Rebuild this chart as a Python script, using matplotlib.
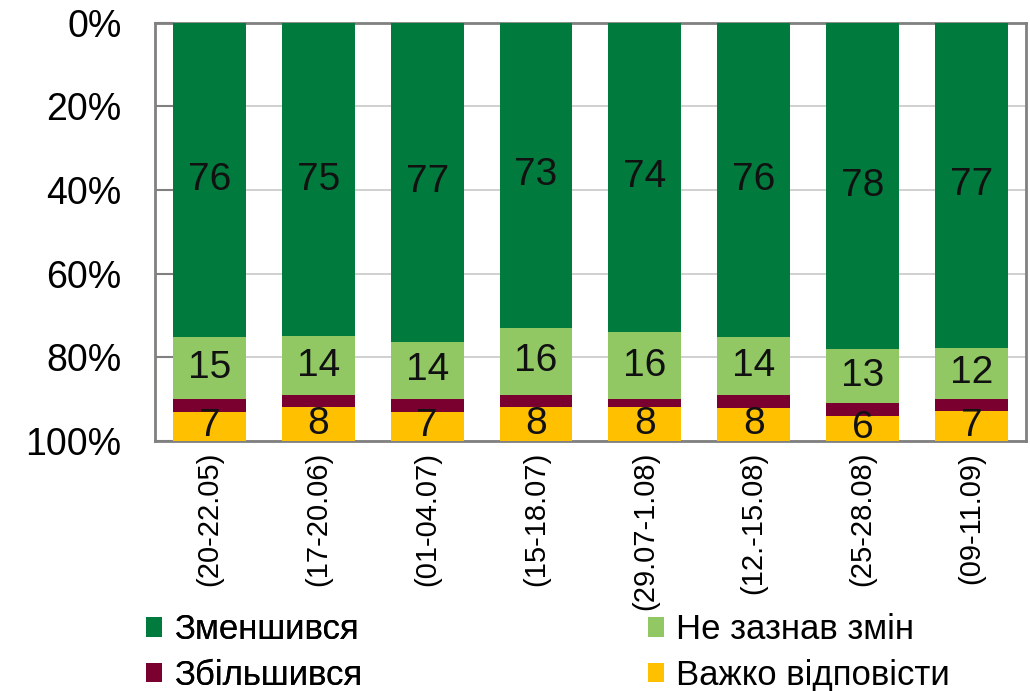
import matplotlib.pyplot as plt
import numpy as np

periods = ["(20-22.05)", "(17-20.06)", "(01-04.07)", "(15-18.07)",
           "(29.07-1.08)", "(12.-15.08)", "(25-28.08)", "(09-11.09)"]

decreased = [76, 75, 77, 73, 74, 76, 78, 77]
no_change = [15, 14, 14, 16, 16, 14, 13, 12]
increased = [3, 3, 3, 3, 2, 3, 3, 3]
hard_to_say = [7, 8, 7, 8, 8, 8, 6, 7]

names = ["Зменшився", "Не зазнав змін", "Збільшився", "Важко відповісти"]
colors = ["#007a3d", "#92c864", "#7a0030", "#ffc000"]
show_label = [True, True, False, True]

plt.rcParams['font.family'] = ['Liberation Sans', 'DejaVu Sans']

series = np.array([decreased, no_change, increased, hard_to_say], dtype=float)
shares = series / series.sum(axis=0) * 100

fig = plt.figure(figsize=(10.30, 6.91), dpi=100)
ax = fig.add_axes([0.1505, 0.362, 0.8455, 0.605])

x = np.arange(len(periods))
bottom = np.zeros(len(periods))
bars = []
for i in range(4):
    b = ax.bar(x, shares[i], 0.67, bottom=bottom, color=colors[i],
               label=names[i], zorder=3)
    bars.append(b)
    if show_label[i]:
        for xi, val, bt, raw in zip(x, shares[i], bottom, series[i]):
            ax.text(xi, bt + val / 2, f"{int(raw)}", ha='center', va='center',
                    fontsize=28, color='#111111', zorder=4)
    bottom += shares[i]

ax.set_xlim(-0.5, len(periods) - 0.5)
ax.set_ylim(100, 0)
ax.set_yticks(range(0, 101, 20))
ax.set_yticklabels([f"{v}%" for v in range(0, 101, 20)], fontsize=27)
ax.set_xticks(x)
ax.set_xticklabels(periods, rotation=90, fontsize=21, va='top')
ax.tick_params(axis='x', length=0, pad=8)
ax.tick_params(axis='y', direction='in', length=14, width=1.5, color='#808080', pad=24)
ax.yaxis.grid(True, color='#c8c8c8', linewidth=1.2, zorder=0)
for s in ax.spines.values():
    s.set_color('#808080')
    s.set_linewidth(2)

leg_kw = dict(loc='upper left', frameon=False, borderpad=0, borderaxespad=0,
              handlelength=0.47, handleheight=0.47, handletextpad=0.35,
              labelspacing=0.37, fontsize=25)
leg1 = fig.legend([bars[0], bars[2]], [names[0], names[2]],
                  bbox_to_anchor=(146 / 1030, 0.1123), **leg_kw)
fig.add_artist(leg1)
fig.legend([bars[1], bars[3]], [names[1], names[3]],
           bbox_to_anchor=(648 / 1030, 0.1123), **leg_kw)

fig.savefig("out.png", dpi=100)
